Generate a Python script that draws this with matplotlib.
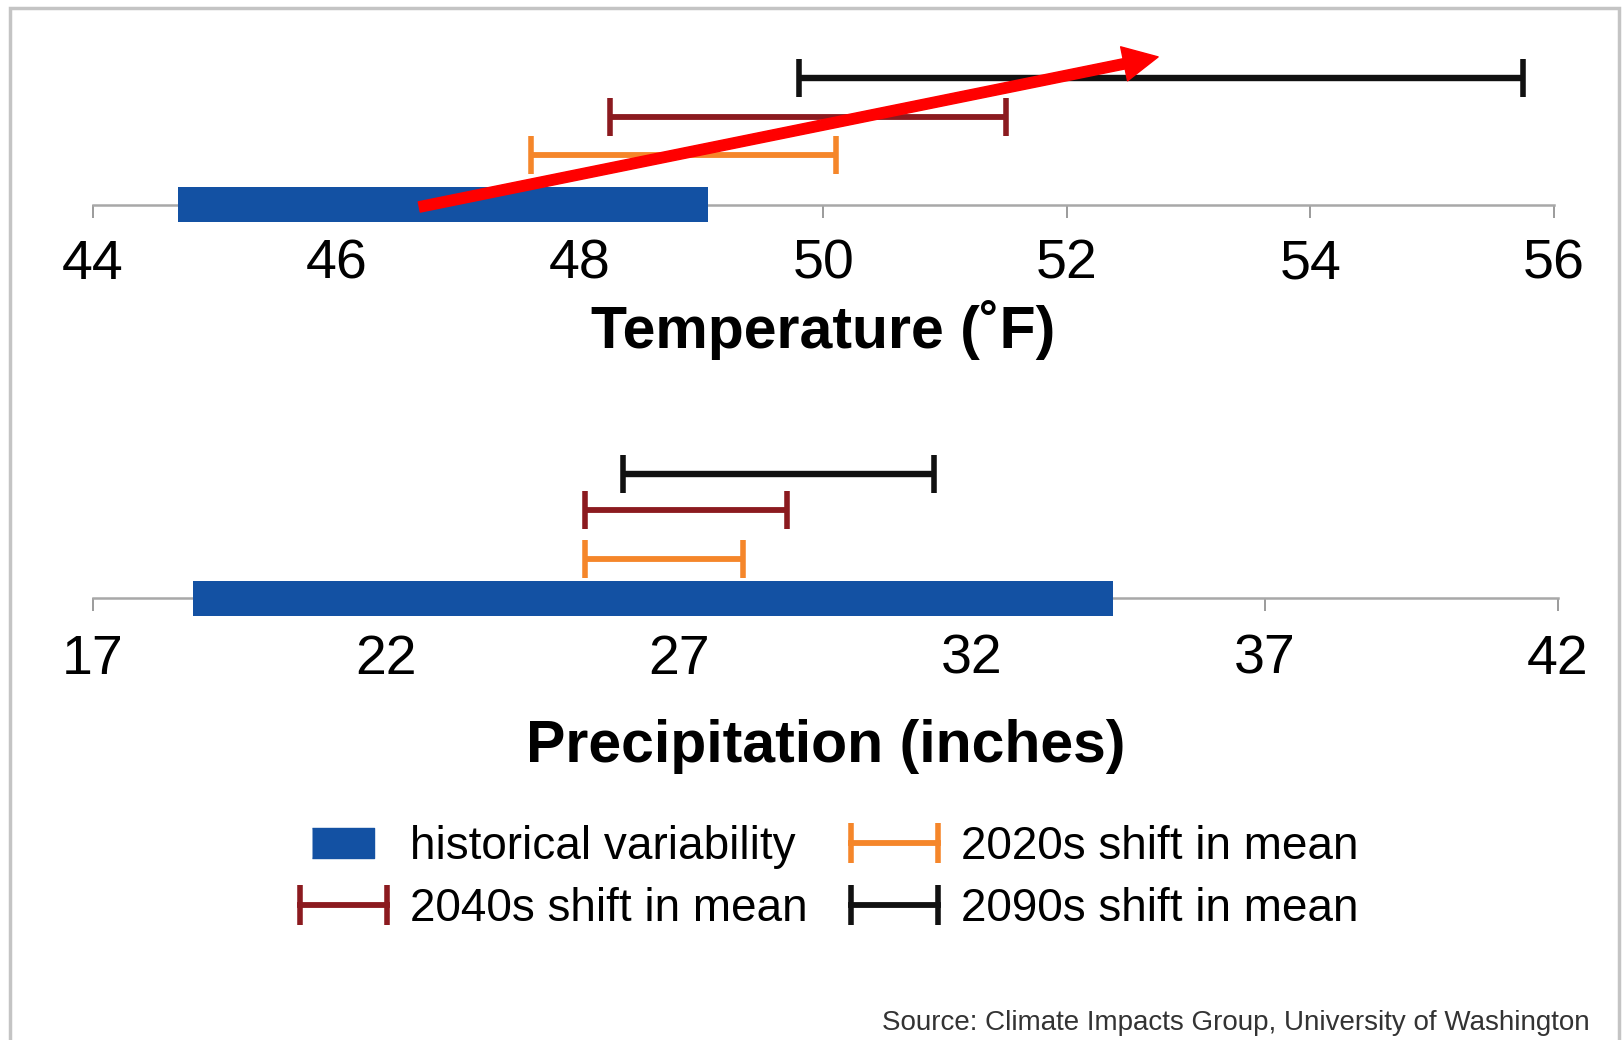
import matplotlib
matplotlib.use('Agg')
import matplotlib.pyplot as plt
from matplotlib.lines import Line2D
from matplotlib.patches import Rectangle
from matplotlib.legend_handler import HandlerLine2D

plt.rcParams['font.family'] = ['Liberation Sans', 'DejaVu Sans']

# ---------------------------------------------------------------
# data
# ---------------------------------------------------------------
series = ['historical variability', '2020s shift in mean',
          '2040s shift in mean', '2090s shift in mean']

temp_low = [44.7, 47.6, 48.25, 49.8]
temp_high = [49.05, 50.1, 51.5, 55.75]
temp_ticks = [44, 46, 48, 50, 52, 54, 56]

precip_low = [18.7, 25.4, 25.4, 26.05]
precip_high = [34.4, 28.1, 28.85, 31.35]
precip_ticks = [17, 22, 27, 32, 37, 42]

# red trend arrow (°F)
arrow_start = 46.68
arrow_end = 52.75

# ---------------------------------------------------------------
# styles / layout
# ---------------------------------------------------------------
colors = ['#1351a3', '#f5862a', '#8b1a1f', '#111111']
temp_levels = [0, 48, 85, 123]      # px above the axis line
precip_levels = [0, 38, 85, 120]
bar_half = 17
elw = [0, 4.2, 4.2, 4.6]

fig = plt.figure(figsize=(16.22, 10.4), dpi=100)

fig.add_artist(Rectangle((0.0064, -0.05), 0.9915, 1.042,
                         transform=fig.transFigure, fill=False,
                         edgecolor='#c4c4c4', linewidth=2.5))

ax_t = fig.add_axes([0.0574, 0.80299, 0.9005, 150 / 1005])
ax_p = fig.add_axes([0.0574, 0.42488, 0.9031, 150 / 1005])


def draw_panel(ax, lows, highs, levels, ticks, label, lpad, tpad):
    # historical band
    ax.barh(levels[0], highs[0] - lows[0], left=lows[0], height=2 * bar_half,
            color=colors[0], zorder=3, clip_on=False)
    # projected shifts
    for k in range(1, 4):
        mid = (lows[k] + highs[k]) / 2
        half = (highs[k] - lows[k]) / 2
        ax.errorbar(mid, levels[k], xerr=half, fmt='none', ecolor=colors[k],
                    elinewidth=elw[k], capsize=13.5, capthick=4, zorder=4,
                    clip_on=False)
    ax.set_xlim(ticks[0], ticks[-1])
    ax.set_ylim(0, 150)
    ax.set_xticks(ticks)
    ax.set_xticklabels([str(t) for t in ticks])
    ax.set_yticks([])
    for s in ['top', 'left', 'right']:
        ax.spines[s].set_visible(False)
    ax.spines['bottom'].set_color('#a8a8a8')
    ax.spines['bottom'].set_linewidth(1.8)
    ax.tick_params(axis='x', length=9.5, width=1.2, color='#8a8a8a',
                   labelsize=40, pad=tpad)
    ax.set_xlabel(label, fontsize=42.5, fontweight='bold', labelpad=lpad)
    ax.patch.set_visible(False)


draw_panel(ax_t, temp_low, temp_high, temp_levels, temp_ticks,
           'Temperature (˚F)', 6.5, 15)
draw_panel(ax_p, precip_low, precip_high, precip_levels, precip_ticks,
           'Precipitation (inches)', 24, 16)

# red arrow showing the warming trend
ax_t.annotate('', xy=(arrow_end, 143), xytext=(arrow_start, -2),
              arrowprops=dict(arrowstyle='simple,head_length=2.5,'
                                         'head_width=2.5,tail_width=0.75',
                              mutation_scale=10, color='#ff0000',
                              shrinkA=0, shrinkB=0),
              annotation_clip=False, zorder=10)

# ---------------------------------------------------------------
# legend
# ---------------------------------------------------------------
hist_handle = Line2D([], [], linestyle='none', color=colors[0],
                     marker=[(-1, -0.5), (1, -0.5), (1, 0.5), (-1, 0.5)],
                     markersize=44)
shift_handles = [Line2D([], [], color=colors[k], linewidth=4.2, marker='|',
                        markersize=29, markeredgewidth=4)
                 for k in range(1, 4)]

handles = [hist_handle, shift_handles[1], shift_handles[0], shift_handles[2]]
labels = [series[0], series[2], series[1], series[3]]

fig.legend(handles, labels, ncol=2, loc='center',
           bbox_to_anchor=(0.507, 0.156), frameon=False, fontsize=33,
           numpoints=2, handlelength=2.5, handletextpad=0.2,
           columnspacing=0.65, labelspacing=0.4,
           handler_map={hist_handle: HandlerLine2D(numpoints=1)})

fig.text(0.980, 0.010, 'Source: Climate Impacts Group, University of Washington',
         ha='right', va='baseline', fontsize=20, color='#333333')

fig.savefig('out.png', dpi=100, facecolor='white')
